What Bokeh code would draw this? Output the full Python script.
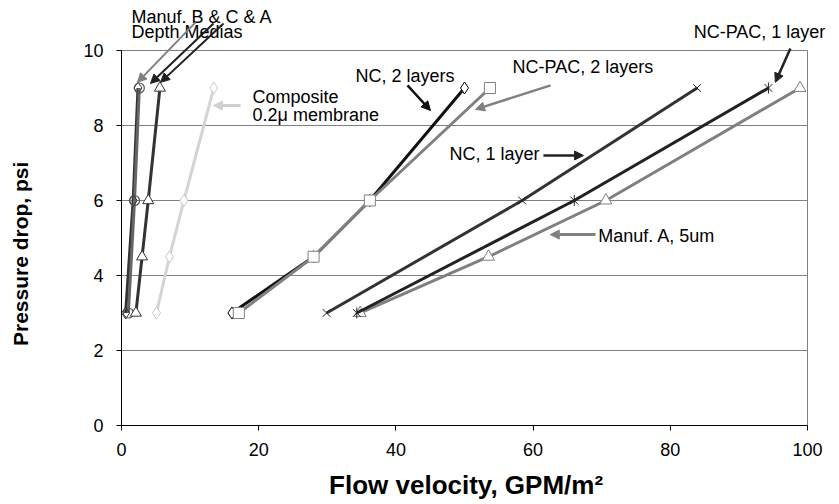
from bokeh.plotting import figure
from bokeh.models import Range1d, Label, Arrow, NormalHead, FixedTicker
from bokeh.embed import file_html
from bokeh.resources import INLINE

# ---- data ----
y_four = [3, 4.5, 6, 9]
y_three = [3, 6, 9]

x_nc2 = [16.1, 28.0, 36.2, 50.0]          # NC, 2 layers
x_ncpac2 = [17.1, 28.0, 36.2, 53.7]       # NC-PAC, 2 layers
x_nc1 = [29.9, 58.4, 83.9]                # NC, 1 layer
x_ncpac1 = [34.3, 66.0, 94.3]             # NC-PAC, 1 layer
x_manA5 = [34.8, 53.5, 70.6, 98.9]        # Manuf. A, 5um
x_comp = [5.1, 7.0, 9.1, 13.45]           # Composite 0.2u membrane
x_manB = [1.0, 1.9, 2.6]                  # Manuf. B depth media
x_manC = [0.6, 1.7, 2.4]                  # Manuf. C depth media
x_manAd = [2.1, 3.0, 3.9, 5.6]            # Manuf. A depth media

x_ticks = [0, 20, 40, 60, 80, 100]
y_ticks = [0, 2, 4, 6, 8, 10]

FONT = "Liberation Sans"

# plot area spans 0..100 x 0..10; the visible range is wider so that
# call-out texts above / right of the plot area are not clipped
p = figure(width=839, height=504, output_backend="svg", toolbar_location=None,
           x_range=Range1d(0, 104.66), y_range=Range1d(0, 11.333),
           min_border_left=121, min_border_right=0, min_border_top=0, min_border_bottom=79)
p.background_fill_color = "white"
p.border_fill_color = "white"
p.outline_line_color = None

p.ygrid.grid_line_color = "#808080"
p.ygrid.grid_line_width = 1
p.ygrid.ticker = FixedTicker(ticks=y_ticks)
p.ygrid.cross_bounds = (0, 100)
p.xgrid.ticker = FixedTicker(ticks=[100])
p.xgrid.grid_line_color = "#808080"
p.xgrid.grid_line_width = 1
p.xgrid.cross_bounds = (0, 10)

for ax in (p.xaxis[0], p.yaxis[0]):
    ax.axis_line_color = "black"
    ax.axis_line_width = 1
    ax.major_tick_line_color = "black"
    ax.major_tick_out = 5
    ax.major_tick_in = 0
    ax.minor_tick_line_color = None
    ax.major_label_text_font = FONT
    ax.major_label_text_font_size = "18px"
    ax.major_label_text_color = "black"
    ax.axis_label_text_font = FONT
    ax.axis_label_text_font_style = "bold"
    ax.axis_label_text_color = "black"

p.xaxis[0].bounds = (0, 100)
p.yaxis[0].bounds = (0, 10)
p.xaxis[0].ticker = FixedTicker(ticks=x_ticks)
p.yaxis[0].ticker = FixedTicker(ticks=y_ticks)
p.xaxis[0].axis_label = "Flow velocity, GPM/m²" + "\u00a0" * 4
p.yaxis[0].axis_label = "Pressure drop, psi" + "\u00a0" * 14
p.xaxis[0].axis_label_text_font_size = "26px"
p.yaxis[0].axis_label_text_font_size = "21px"
p.xaxis[0].major_label_standoff = 12
p.yaxis[0].major_label_standoff = 13
p.xaxis[0].axis_label_standoff = 11
p.yaxis[0].axis_label_standoff = 48

LW = 3

# Composite 0.2u membrane
p.line(x_comp, y_four, line_color="#d4d4d4", line_width=LW)
p.scatter(x_comp, y_four, marker="diamond", size=12, fill_color="white", line_color="#c8c8c8", line_width=1)

# Manuf. B (circle) and C (diamond) depth media
p.line(x_manC, y_three, line_color="#333333", line_width=LW)
p.line(x_manB, y_three, line_color="#666666", line_width=LW)
p.scatter(x_manC, y_three, marker="diamond", size=12, fill_color=None, line_color="#333333", line_width=1)
p.scatter(x_manB, y_three, marker="circle", size=10, fill_color=None, line_color="#555555", line_width=1.2)

# Manuf. A depth media
p.line(x_manAd, y_four, line_color="#333333", line_width=LW)
p.scatter(x_manAd, y_four, marker="triangle", size=11, fill_color="white", line_color="#333333", line_width=1)

# NC, 2 layers
p.line(x_nc2, y_four, line_color="#111111", line_width=LW)
p.scatter(x_nc2, y_four, marker="diamond", size=12, fill_color="white", line_color="black", line_width=1)

# NC-PAC, 2 layers
p.line(x_ncpac2, y_four, line_color="#808080", line_width=LW)
p.scatter(x_ncpac2, y_four, marker="square", size=11, fill_color="white", line_color="#808080", line_width=1)

# NC, 1 layer
p.line(x_nc1, y_three, line_color="#333333", line_width=LW)
p.scatter(x_nc1, y_three, marker="x", size=11, line_color="#222222", line_width=1)

# Manuf. A, 5um
p.line(x_manA5, y_four, line_color="#808080", line_width=LW)
p.scatter(x_manA5, y_four, marker="triangle", size=12, fill_color="white", line_color="#808080", line_width=1)

# NC-PAC, 1 layer
p.line(x_ncpac1, y_three, line_color="#222222", line_width=LW)
p.scatter(x_ncpac1, y_three, marker="x", size=11, line_color="#222222", line_width=1)
p.scatter(x_ncpac1, y_three, marker="dash", angle=1.5708, size=11, line_color="#222222", line_width=1)

# ---- annotations ----
def lab(x, y, t):
    p.add_layout(Label(x=x, y=y, text=t, text_font=FONT, text_font_size="18px",
                       text_baseline="middle", text_align="left", text_color="black"))

lab(1.46, 10.9, "Manuf. B & C & A")
lab(1.46, 10.48, "Depth Medias")
lab(19.1, 8.77, "Composite")
lab(19.1, 8.27, "0.2\u03bc membrane")
lab(34.1, 9.33, "NC, 2 layers")
lab(57.0, 9.57, "NC-PAC, 2 layers")
lab(47.8, 7.23, "NC, 1 layer")
lab(83.4, 10.48, "NC-PAC, 1 layer")
lab(69.5, 5.04, "Manuf. A, 5um")

def arr(x0, y0, x1, y1, color, w=2):
    p.add_layout(Arrow(end=NormalHead(size=9, fill_color=color, line_color=color),
                       x_start=x0, y_start=y0, x_end=x1, y_end=y1,
                       line_color=color, line_width=w))

arr(10.79, 10.75, 2.33, 9.15, "#808080")
arr(13.41, 10.72, 4.23, 9.12, "#202020")
arr(14.87, 10.72, 5.69, 9.15, "#202020")
arr(17.35, 8.53, 13.41, 8.53, "#d0d0d0", 3)
arr(41.69, 9.07, 45.04, 8.40, "#111111", 2.5)
arr(62.54, 9.07, 51.6, 8.43, "#808080", 2.5)
arr(61.5, 7.2, 67.35, 7.2, "#222222", 2.5)
arr(97.5, 10.05, 95.3, 9.15, "#222222", 2.5)
arr(69.1, 5.09, 62.5, 5.09, "#808080", 3)

open("out.html", "w").write(file_html(p, INLINE))
